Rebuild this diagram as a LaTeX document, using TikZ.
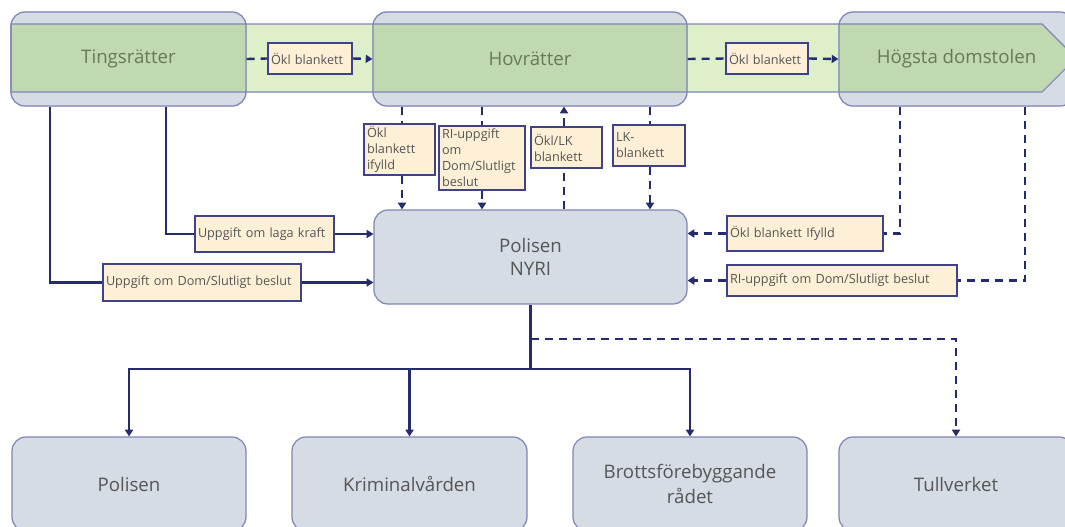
\documentclass[tikz,border=0pt]{standalone}
\usepackage{fontspec}
\setmainfont{Open Sans}
\usetikzlibrary{arrows.meta}
\pgfdeclarelayer{bg}
\pgfdeclarelayer{mid}
\pgfsetlayers{bg,mid,main}
\definecolor{boxfill}{HTML}{D6DCE4}
\definecolor{boxline}{HTML}{7F84B8}
\definecolor{bandfill}{HTML}{DDF0C9}
\definecolor{bandover}{HTML}{C0D9B0}
\definecolor{navy}{HTML}{252B6F}
\definecolor{lblfill}{HTML}{FEF0D6}
\definecolor{lblline}{HTML}{3F4287}
\definecolor{txtgrey}{HTML}{555555}
\definecolor{txtgreen}{HTML}{667A5A}
\begin{document}
\begin{tikzpicture}[x=0.75pt,y=-0.75pt,
  sz/.style 2 args={minimum width=#1*0.75pt, minimum height=#2*0.75pt},
  bigbox/.style={draw=boxline, line width=0.9pt, rounded corners=10.5pt, inner sep=0pt,
    font=\fontsize{14}{17}\selectfont, align=center},
  topbox/.style={bigbox, text=txtgreen},
  lowbox/.style={bigbox, fill=boxfill, text=txtgrey},
  lbl/.style={draw=lblline, fill=lblfill, line width=1.2pt, inner xsep=2.25pt, inner ysep=0pt,
    font=\fontsize{9.5}{12}\selectfont, text=txtgrey, align=left},
  conn/.style={navy, line width=1.8pt},
  dsh/.style={conn, dash pattern=on 6pt off 4.5pt},
  arr/.style={-{Triangle[length=5pt,width=6pt]}}
]
\useasboundingbox (0,0) rectangle (1065,526);

% top row
\node[topbox, sz={235}{94}] (ting) at (128.5,59) {Tingsrätter};
\node[topbox, sz={314}{94}] (hov) at (530,59) {Hovrätter};
\node[topbox, sz={235}{94}] (hd) at (956.5,59) {Högsta domstolen};

\begin{pgfonlayer}{bg}
  \fill[white] (0,0) rectangle (1065,526);
  \foreach \n in {ting,hov,hd}
    \fill[boxfill, rounded corners=10.5pt] (\n.south west) rectangle (\n.north east);
\end{pgfonlayer}
\begin{pgfonlayer}{mid}
  \fill[bandfill] (11,24) -- (1042,24) -- (1076,58) -- (1042,92) -- (11,92) -- cycle;
  \begin{scope}
    \clip (11,24) -- (1042,24) -- (1076,58) -- (1042,92) -- (11,92) -- cycle;
    \foreach \n in {ting,hov,hd}
      \fill[bandover, rounded corners=10.5pt] (\n.south west) rectangle (\n.north east);
  \end{scope}
  \draw[boxline, line width=0.8pt] (11,24) -- (1042,24) -- (1076,58) -- (1042,92) -- (11,92) -- cycle;
\end{pgfonlayer}

% band labels
\node[lbl, text width=58.5pt, minimum height=23.25pt] (okl1) at (310,58.5) {Ökl blankett};
\node[lbl, text width=57pt, minimum height=23.25pt] (okl2) at (767,58.5) {Ökl blankett};

% Polisen NYRI
\node[lowbox, sz={313}{94}] (pol) at (530.5,257) {Polisen\\NYRI};

% vertical labels
\node[lbl, text width=48.75pt, minimum height=38.25pt] (lblA) at (399.5,149.5) {Ökl\\blankett\\ifylld};
\node[lbl, text width=60pt, minimum height=48pt] (lblB) at (482,158) {RI-uppgift\\om\\Dom/Slutligt\\beslut};
\node[lbl, text width=48.75pt, minimum height=30.75pt] (lblC) at (566.5,147.5) {Ökl/LK\\blankett};
\node[lbl, text width=49.5pt, minimum height=30.75pt] (lblD) at (649,145.5) {LK-\\blankett};

% left labels
\node[lbl, text width=99.75pt, minimum height=27pt] (laga) at (264.5,234) {Uppgift om laga kraft};
\node[lbl, text width=144pt, minimum height=27.75pt] (dom) at (202,282.5) {Uppgift om Dom/Slutligt beslut};

% right labels
\node[lbl, text width=112.5pt, minimum height=26.25pt] (ifylld) at (805,233.5) {Ökl blankett Ifylld};
\node[lbl, text width=168pt, minimum height=23.25pt] (ri) at (842,280.5) {RI-uppgift om Dom/Slutligt beslut};

% bottom boxes
\node[lowbox, sz={234}{94}] (b1) at (129,484) {Polisen};
\node[lowbox, sz={235}{94}] (b2) at (409.5,484) {Kriminalvården};
\node[lowbox, sz={234}{94}, font=\fontsize{14}{18.5}\selectfont] (b3) at (690,484) {Brottsförebyggande\\rådet};
\node[lowbox, sz={234}{94}] (b4) at (956,484) {Tullverket};

% helper coordinates
\coordinate (xt1) at (50,0);
\coordinate (xt2) at (166,0);
\coordinate (xa) at (402,0);
\coordinate (xb) at (482,0);
\coordinate (xc) at (564,0);
\coordinate (xd) at (650,0);
\coordinate (xh1) at (900,0);
\coordinate (xh2) at (1025,0);
\coordinate (yj) at (0,369);
\coordinate (yd) at (0,339);

% band connectors
\draw[dsh] (ting.east) -- (okl1.west);
\draw[dsh,arr] (okl1.east) -- (hov.west);
\draw[dsh] (hov.east) -- (okl2.west);
\draw[dsh,arr] (okl2.east) -- (hd.west);

% Tingsrätter to Polisen
\draw[conn] (ting.south -| xt1) |- (dom.west);
\draw[conn,arr] (dom.east) -- (dom.east -| pol.west);
\draw[conn] (ting.south -| xt2) |- (laga.west);
\draw[conn,arr] (laga.east) -- (laga.east -| pol.west);

% Hovrätter <-> Polisen
\draw[dsh] (hov.south -| xa) -- (lblA.north -| xa);
\draw[dsh,arr] (lblA.south -| xa) -- (pol.north -| xa);
\draw[dsh] (hov.south -| xb) -- (lblB.north -| xb);
\draw[dsh,arr] (lblB.south -| xb) -- (pol.north -| xb);
\draw[dsh] (pol.north -| xc) -- (lblC.south -| xc);
\draw[dsh,arr] (lblC.north -| xc) -- (hov.south -| xc);
\draw[dsh] (hov.south -| xd) -- (lblD.north -| xd);
\draw[dsh,arr] (lblD.south -| xd) -- (pol.north -| xd);

% Högsta domstolen to Polisen
\draw[dsh] (hd.south -| xh1) |- (ifylld.east);
\draw[dsh,arr] (ifylld.west) -- (ifylld.west -| pol.east);
\draw[dsh] (hd.south -| xh2) |- (ri.east);
\draw[dsh,arr] (ri.west) -- (ri.west -| pol.east);

% Polisen NYRI to recipients
\draw[conn] (pol.south) -- (pol.south |- yj);
\draw[conn,arr] (pol.south |- yj) -| (b1.north);
\draw[conn,arr] (pol.south |- yj) -| (b3.north);
\draw[conn,arr] (b2.north |- yj) -- (b2.north);
\draw[dsh,arr] (pol.south |- yd) -| (b4.north);
\end{tikzpicture}
\end{document}
